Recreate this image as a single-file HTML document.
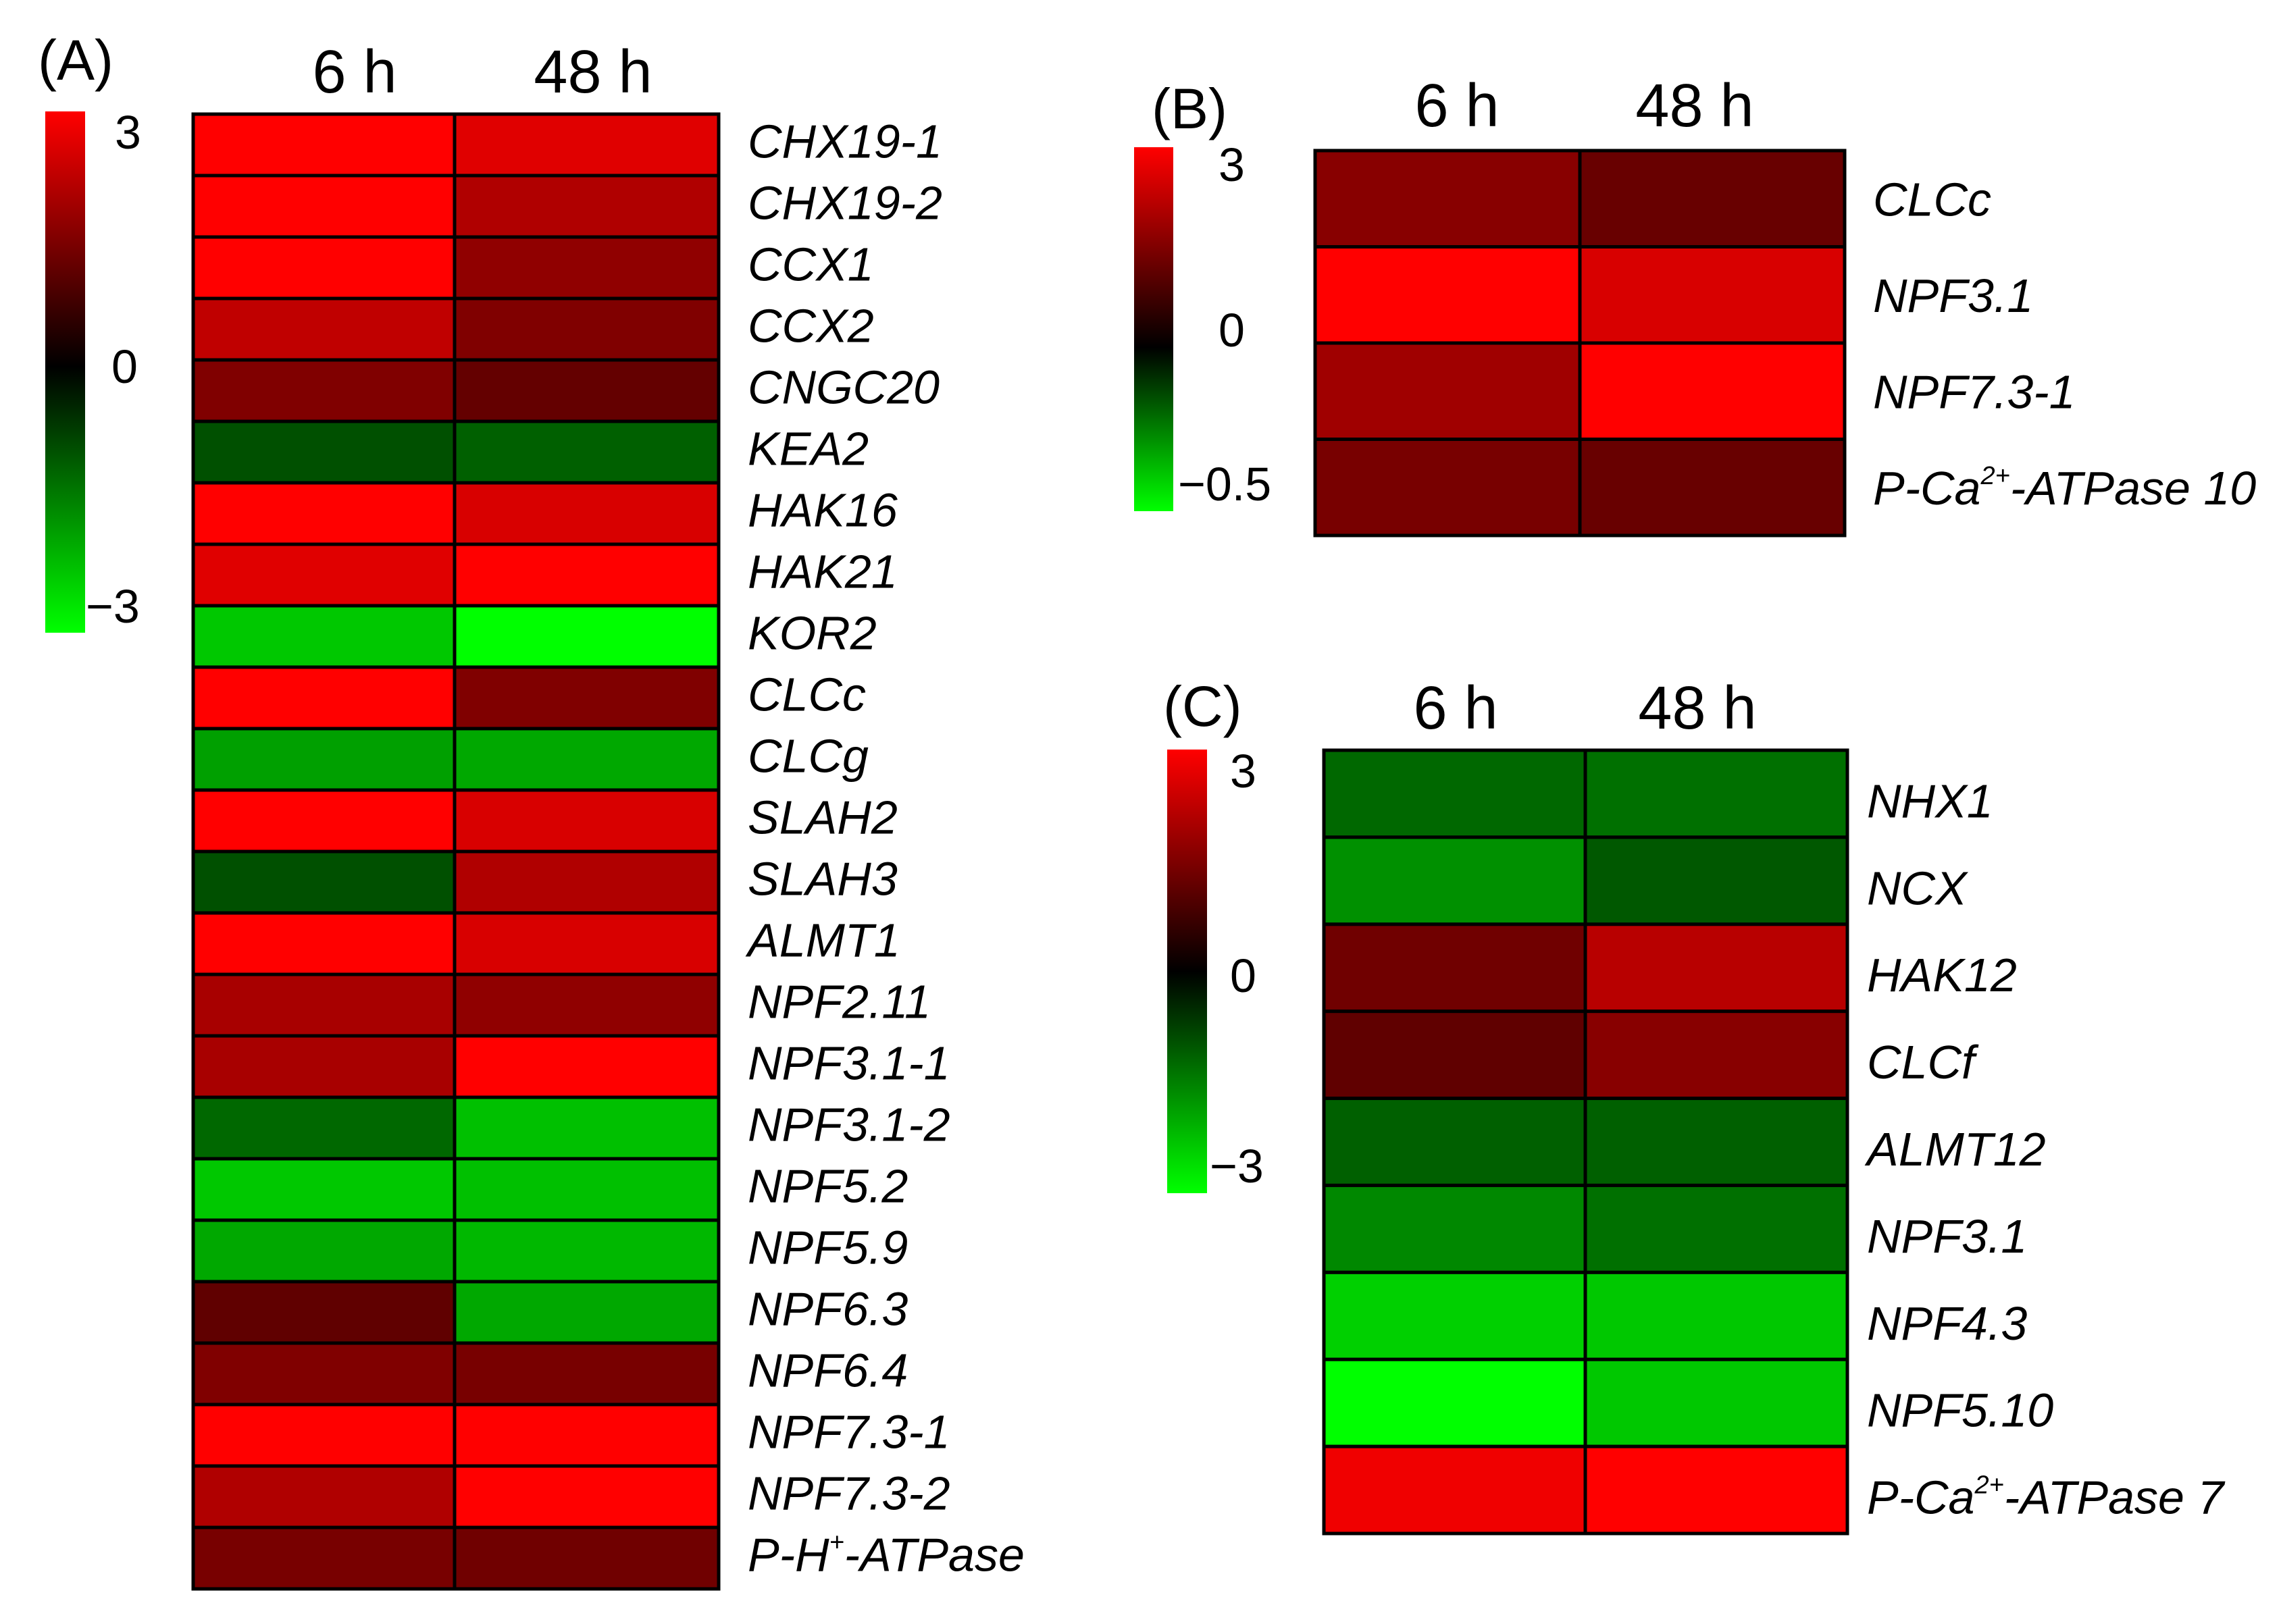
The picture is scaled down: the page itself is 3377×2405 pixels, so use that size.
<!DOCTYPE html>
<html><head><meta charset="utf-8"><style>html,body{margin:0;padding:0;background:#fff}svg{display:block}</style></head>
<body>
<svg id="fig" xmlns="http://www.w3.org/2000/svg" width="3377" height="2405" viewBox="0 0 3377 2405" font-family="Liberation Sans, Arial, sans-serif">
<defs>
<linearGradient id="gA" x1="0" y1="0" x2="0" y2="1"><stop offset="0" stop-color="#ff0000"/><stop offset="0.49" stop-color="#000000"/><stop offset="1" stop-color="#00ff00"/></linearGradient>
<linearGradient id="gB" x1="0" y1="0" x2="0" y2="1"><stop offset="0" stop-color="#ff0000"/><stop offset="0.55" stop-color="#000000"/><stop offset="1" stop-color="#00ff00"/></linearGradient>
<linearGradient id="gC" x1="0" y1="0" x2="0" y2="1"><stop offset="0" stop-color="#ff0000"/><stop offset="0.5" stop-color="#000000"/><stop offset="1" stop-color="#00ff00"/></linearGradient>
</defs>
</svg>
<script>
const timepoints = ["6 h", "48 h"];
const genesA = ["CHX19-1","CHX19-2","CCX1","CCX2","CNGC20","KEA2","HAK16","HAK21","KOR2","CLCc","CLCg","SLAH2","SLAH3","ALMT1","NPF2.11","NPF3.1-1","NPF3.1-2","NPF5.2","NPF5.9","NPF6.3","NPF6.4","NPF7.3-1","NPF7.3-2","P-H|+|-ATPase"];
const valsA6 = [3,3,3,2.26,1.5,-0.94,3,2.64,-2.35,3,-1.88,3,-0.94,3,1.98,1.98,-1.22,-2.35,-1.98,1.13,1.5,3,2.07,1.41];
const valsA48 = [2.64,2.07,1.69,1.5,1.18,-1.13,2.54,3,-3,1.5,-1.98,2.54,2.07,2.54,1.69,3,-2.26,-2.26,-2.16,-1.98,1.41,3,3,1.32];
const genesB = ["CLCc","NPF3.1","NPF7.3-1","P-Ca|2+|-ATPase 10"];
const valsB6 = [1.6,3,1.88,1.41];
const valsB48 = [1.22,2.54,3,1.22];
const genesC = ["NHX1","NCX","HAK12","CLCf","ALMT12","NPF3.1","NPF4.3","NPF5.10","P-Ca|2+|-ATPase 7"];
const valsC6 = [-1.22,-1.69,1.32,1.13,-1.13,-1.6,-2.45,-3,2.82];
const valsC48 = [-1.32,-1.04,2.16,1.6,-1.13,-1.32,-2.35,-2.35,3];
const ticksA = ["3","0","\u22123"];
const ticksB = ["3","0","\u22120.5"];
const ticksC = ["3","0","\u22123"];

const NS="http://www.w3.org/2000/svg";
const svg=document.getElementById('fig');
function mk(tag,attrs,parent){const e=document.createElementNS(NS,tag);for(const k in attrs)e.setAttribute(k,attrs[k]);(parent||svg).appendChild(e);return e;}
function color(v){const t=Math.max(-3,Math.min(3,v))/3;const c=Math.round(Math.abs(t)*255);return t>=0?`rgb(${c},0,0)`:`rgb(0,${c},0)`;}

function panel(p){
  const g=mk('g',{});
  
  
  const n=p.genes.length, rh=(p.y1-p.y0)/n;
  const xCol=[p.x0,p.xm,p.x1];
  const cols=[p.v6,p.v48];
  for(let c=0;c<2;c++){
    for(let i=0;i<n;i++){
      const r=mk('rect',{x:xCol[c],y:p.y0+i*rh,width:xCol[c+1]-xCol[c],height:rh,fill:color(cols[c][i]),stroke:'#000','stroke-width':5},g);
      
      
    }
  }
  for(let i=0;i<n;i++){
    const parts=p.genes[i].split('|');
    const t=mk('text',{x:p.lx,y:p.y0+i*rh+rh/2+p.ly,'font-size':70,'font-style':'italic',fill:'#000'},g);
    
    
    if(parts.length===1){t.textContent=parts[0];}
    else{
      mk('tspan',{},t).textContent=parts[0];
      mk('tspan',{'font-size':38,dy:-30},t).textContent=parts[1];
      mk('tspan',{dy:30},t).textContent=parts[2];
    }
  }
  for(let c=0;c<2;c++){
    const t=mk('text',{x:p.hx[c],y:p.hy,'font-size':90,'text-anchor':'middle',fill:'#000'},g);
    
    
    t.textContent=timepoints[c];
  }
  const pl=mk('text',{x:p.px,y:p.py,'font-size':84,fill:'#000'},g);
  
  
  pl.textContent='('+p.id+')';
  const cb=mk('rect',{x:p.cb[0],y:p.cb[1],width:p.cb[2]-p.cb[0],height:p.cb[3]-p.cb[1],fill:'url(#'+p.grad+')'},g);
  
  
  for(let k=0;k<3;k++){
    const t=mk('text',{x:p.tx[k],y:p.ty[k],'font-size':70,fill:'#000'},g);
    
    
    t.textContent=p.ticks[k];
  }
}
panel({id:'A',genes:genesA,v6:valsA6,v48:valsA48,x0:286,xm:673,x1:1064,y0:169,y1:2353,lx:1107,ly:19,hx:[525,878],hy:137,px:56,py:118,cb:[67,165,126,937],grad:'gA',ticks:ticksA,tx:[170,165,127],ty:[220,567,922]});
panel({id:'B',genes:genesB,v6:valsB6,v48:valsB48,x0:1947,xm:2339,x1:2731,y0:223,y1:793,lx:2773,ly:25,hx:[2157,2509],hy:187,px:1705,py:190,cb:[1679,218,1737,757],grad:'gB',ticks:ticksB,tx:[1804,1804,1744],ty:[268,513,741]});
panel({id:'C',genes:genesC,v6:valsC6,v48:valsC48,x0:1960,xm:2347,x1:2735,y0:1111,y1:2271,lx:2764,ly:35,hx:[2155,2513],hy:1079,px:1722,py:1075,cb:[1728,1110,1787,1767],grad:'gC',ticks:ticksC,tx:[1821,1821,1791],ty:[1166,1469,1751]});
</script>
</body></html>
